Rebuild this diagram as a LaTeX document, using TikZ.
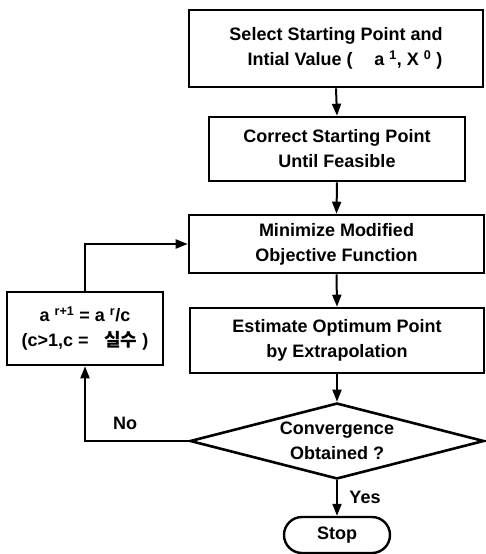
\documentclass[tikz,border=0pt]{standalone}
\usepackage{fontspec}
\setmainfont{Liberation Sans}
\newfontfamily\kr{Noto Sans CJK KR}
\usetikzlibrary{shapes.geometric,shapes.misc,arrows.meta}
\begin{document}
\begin{tikzpicture}[x=1pt,y=-1pt,
  txt/.style={font=\fontsize{18}{25}\selectfont\bfseries},
  box/.style={txt,draw,line width=2.6pt,align=center,inner sep=0pt},
  dia/.style={txt,draw,line width=2.6pt,align=center,shape=diamond,inner sep=0pt,aspect=3.87},
  term/.style={txt,draw,line width=2.4pt,shape=rounded rectangle,inner sep=0pt},
  arr/.style={line width=2pt,-{Triangle[length=12pt,width=9pt]}}]
\useasboundingbox (0,0) rectangle (485,554);
\node[box,minimum width=294pt,minimum height=77pt] (b1) at (336,48.5)
  {Select Starting Point and\\ \hspace{1em}Intial Value (\hspace{1.2em}a \textsuperscript{1}, X \textsuperscript{0} )};
\node[box,minimum width=256pt,minimum height=64pt] (b2) at (337,149)
  {Correct Starting Point\\Until Feasible};
\node[box,minimum width=295pt,minimum height=58pt] (b3) at (336.5,244)
  {Minimize Modified\\Objective Function};
\node[box,minimum width=294pt,minimum height=65pt] (b4) at (337,340.5)
  {Estimate Optimum Point\\by Extrapolation};
\node[dia,minimum width=294pt,minimum height=76pt] (d) at (337,441)
  {Convergence\\Obtained ?};
\node[term,minimum width=106pt,minimum height=36pt] (stop) at (337,535) {Stop};
\node[box,minimum width=156pt,minimum height=73pt] (lb) at (85,328.5)
  {a \textsuperscript{r+1} = a \textsuperscript{r}/c\\(c>1,c = \hspace{0.6em}{\kr\bfseries 실수} )};
\draw[arr] (b1.south) -- (b2.north);
\draw[arr] (b2.south) -- (b3.north);
\draw[arr] (b3.south) -- (b4.north);
\draw[arr] (b4.south) -- (d.north);
\draw[arr] (d.south) -- (stop.north);
\draw[arr] (d.west) -| (lb.south);
\draw[arr] (lb.north) |- (b3.west);
\node[txt] (no) at (125,423) {No};
\node[txt] (yes) at (365,497) {Yes};
\end{tikzpicture}
\end{document}
